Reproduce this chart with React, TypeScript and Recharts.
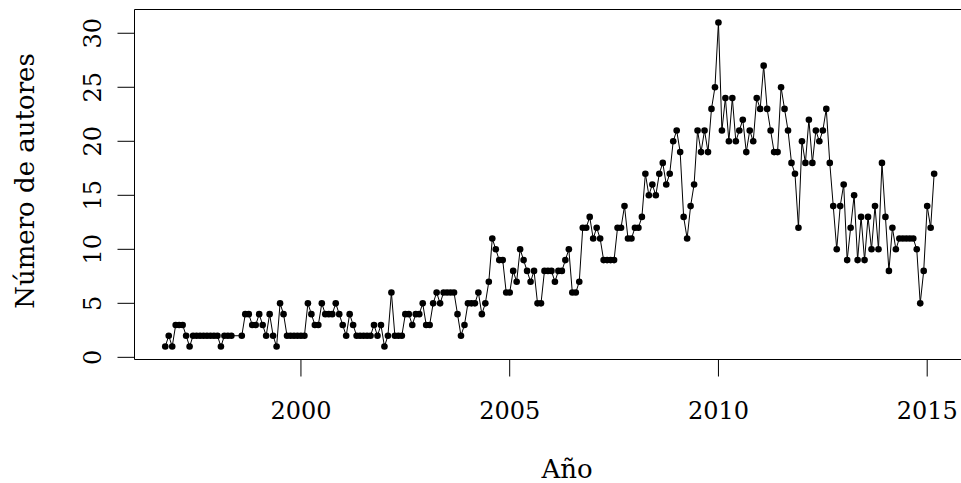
import React from 'react';
import { LineChart, Line, XAxis, YAxis, ReferenceArea } from 'recharts';

// Monthly author counts, one row per year (Jan..Dec); null = no observation
const years = [
  1996, 1997, 1998, 1999, 2000, 2001, 2002, 2003, 2004, 2005,
  2006, 2007, 2008, 2009, 2010, 2011, 2012, 2013, 2014, 2015,
];
const authorsByYear: (number | null)[][] = [
  [null, null, null, null, null, null, null, null, null, 1, 2, 1],
  [3, 3, 3, 2, 1, 2, 2, 2, 2, 2, 2, 2],
  [2, 1, 2, 2, 2, null, null, 2, 4, 4, 3, 3],
  [4, 3, 2, 4, 2, 1, 5, 4, 2, 2, 2, 2],
  [2, 2, 5, 4, 3, 3, 5, 4, 4, 4, 5, 4],
  [3, 2, 4, 3, 2, 2, 2, 2, 2, 3, 2, 3],
  [1, 2, 6, 2, 2, 2, 4, 4, 3, 4, 4, 5],
  [3, 3, 5, 6, 5, 6, 6, 6, 6, 4, 2, 3],
  [5, 5, 5, 6, 4, 5, 7, 11, 10, 9, 9, 6],
  [6, 8, 7, 10, 9, 8, 7, 8, 5, 5, 8, 8],
  [8, 7, 8, 8, 9, 10, 6, 6, 7, 12, 12, 13],
  [11, 12, 11, 9, 9, 9, 9, 12, 12, 14, 11, 11],
  [12, 12, 13, 17, 15, 16, 15, 17, 18, 16, 17, 20],
  [21, 19, 13, 11, 14, 16, 21, 19, 21, 19, 23, 25],
  [31, 21, 24, 20, 24, 20, 21, 22, 19, 21, 20, 24],
  [23, 27, 23, 21, 19, 19, 25, 23, 21, 18, 17, 12],
  [20, 18, 22, 18, 21, 20, 21, 23, 18, 14, 10, 14],
  [16, 9, 12, 15, 9, 13, 9, 13, 10, 14, 10, 18],
  [13, 8, 12, 10, 11, 11, 11, 11, 11, 10, 5, 8],
  [14, 12, 17, null, null, null, null, null, null, null, null, null],
];
const xTicks = [2000, 2005, 2010, 2015];
const yTicks = [0, 5, 10, 15, 20, 25, 30];

const FONT = 'DejaVu Serif';
const TICK_SIZE = 24;
const LABEL_SIZE = 26;

// R-style 4% axis extension
const X_MIN = 1996.0133;
const X_MAX = 2015.9033;
const Y_MIN = -0.2;
const Y_MAX = 32.2;

const chartData = years.flatMap((year, yi) =>
  authorsByYear[yi]
    .map((value, m) => ({ t: year + m / 12, autores: value }))
    .filter((d) => d.autores !== null)
);

const XTick = ({ x, payload }: any) => (
  <text x={x} y={419} textAnchor="middle" fontFamily={FONT} fontSize={TICK_SIZE} fill="#000">
    {payload.value}
  </text>
);

const YTick = ({ y, payload }: any) => (
  <text
    x={101}
    y={y}
    transform={`rotate(-90 101 ${y})`}
    textAnchor="middle"
    fontFamily={FONT}
    fontSize={TICK_SIZE}
    fill="#000"
  >
    {payload.value}
  </text>
);

export default function App() {
  return (
    <div style={{ position: 'relative', width: 961, height: 483, overflow: 'hidden', background: '#fff' }}>
      <style>{'body{margin:0}'}</style>
      <LineChart
        width={966}
        height={483}
        data={chartData}
        margin={{ top: 9.5, right: 1.1, bottom: 63.5, left: 74.5 }}
      >
        <XAxis
          dataKey="t"
          type="number"
          domain={[X_MIN, X_MAX]}
          allowDataOverflow
          ticks={xTicks}
          interval={0}
          height={60}
          axisLine={false}
          tickLine={{ stroke: '#000' }}
          tickSize={17}
          tick={<XTick />}
        />
        <YAxis
          type="number"
          domain={[Y_MIN, Y_MAX]}
          allowDataOverflow
          ticks={yTicks}
          interval={0}
          width={60}
          axisLine={false}
          tickLine={{ stroke: '#000' }}
          tickSize={17}
          tick={<YTick />}
        />
        <ReferenceArea
          x1={X_MIN}
          x2={X_MAX}
          y1={Y_MIN}
          y2={Y_MAX}
          fill="none"
          stroke="#000"
          strokeWidth={1}
        />
        <Line
          type="linear"
          dataKey="autores"
          stroke="#000"
          strokeWidth={1}
          dot={{ r: 3.3, fill: '#000', stroke: '#000', strokeWidth: 0 }}
          isAnimationActive={false}
        />
      </LineChart>
      <div
        style={{
          position: 'absolute',
          left: 0,
          top: 0,
          width: 961,
          height: 483,
          pointerEvents: 'none',
        }}
      >
        <svg width={961} height={483}>
          <text x={567} y={478} textAnchor="middle" fontFamily={FONT} fontSize={LABEL_SIZE} fill="#000">
            Año
          </text>
          <text
            x={34}
            y={181}
            transform="rotate(-90 34 181)"
            textAnchor="middle"
            fontFamily={FONT}
            fontSize={LABEL_SIZE}
            fill="#000"
          >
            Número de autores
          </text>
        </svg>
      </div>
    </div>
  );
}
